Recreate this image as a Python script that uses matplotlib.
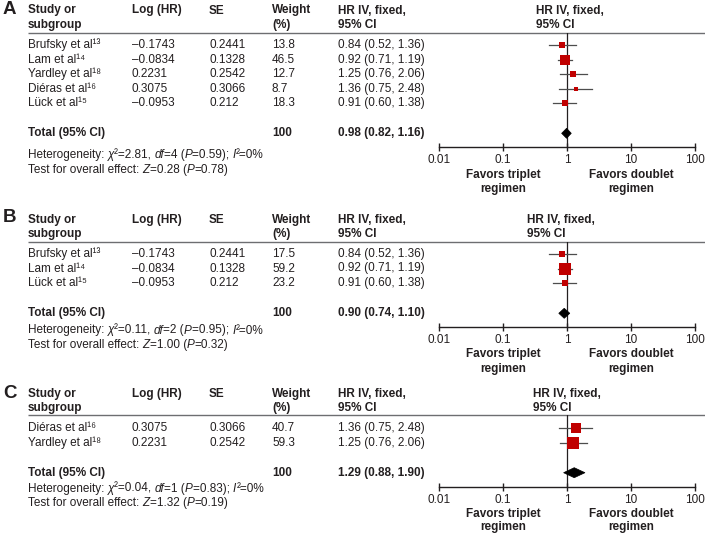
import matplotlib
matplotlib.use("Agg")
import matplotlib.pyplot as plt
import numpy as np
from matplotlib.patches import Polygon

plt.rcParams['font.family'] = ['Liberation Sans', 'DejaVu Sans']

# ---------------- data ----------------
A_studies = ["Brufsky et al", "Lam et al", "Yardley et al", "Diéras et al", "Lück et al"]
A_refs = ["13", "14", "18", "16", "15"]
A_loghr = [-0.1743, -0.0834, 0.2231, 0.3075, -0.0953]
A_se = ["0.2441", "0.1328", "0.2542", "0.3066", "0.212"]
A_weight = [13.8, 46.5, 12.7, 8.7, 18.3]
A_hr = [0.84, 0.92, 1.25, 1.36, 0.91]
A_lo = [0.52, 0.71, 0.76, 0.75, 0.60]
A_hi = [1.36, 1.19, 2.06, 2.48, 1.38]
A_total = [0.98, 0.82, 1.16]
A_het = ["2.81", "4", "0.59", "0"]
A_z = ["0.28", "0.78"]

B_studies = ["Brufsky et al", "Lam et al", "Lück et al"]
B_refs = ["13", "14", "15"]
B_loghr = [-0.1743, -0.0834, -0.0953]
B_se = ["0.2441", "0.1328", "0.212"]
B_weight = [17.5, 59.2, 23.2]
B_hr = [0.84, 0.92, 0.91]
B_lo = [0.52, 0.71, 0.60]
B_hi = [1.36, 1.19, 1.38]
B_total = [0.90, 0.74, 1.10]
B_het = ["0.11", "2", "0.95", "0"]
B_z = ["1.00", "0.32"]

C_studies = ["Diéras et al", "Yardley et al"]
C_refs = ["16", "18"]
C_loghr = [0.3075, 0.2231]
C_se = ["0.3066", "0.2542"]
C_weight = [40.7, 59.3]
C_hr = [1.36, 1.25]
C_lo = [0.75, 0.76]
C_hi = [2.48, 2.06]
C_total = [1.29, 0.88, 1.90]
C_het = ["0.04", "1", "0.83", "0"]
C_z = ["1.32", "0.19"]

tick_vals = [0.01, 0.1, 1, 10, 100]
tick_labels = ["0.01", "0.1", "1", "10", "100"]

# ---------------- layout ----------------
W, H = 705, 534
FS = 8.5
TXT = '#231f20'
RED = '#c00000'
cols = dict(study=28, log=132, se=209, weight=272, hr=338)
ax_x0, ax_x1 = 439.3, 695.0
SUP = str.maketrans("0123456789", "\u2070\u00b9\u00b2\u00b3\u2074\u2075\u2076\u2077\u2078\u2079")

panels = [
    dict(label="A", studies=A_studies, refs=A_refs, loghr=A_loghr, se=A_se, w=A_weight,
         hr=A_hr, lo=A_lo, hi=A_hi, total=A_total, het=A_het, z=A_z,
         lab_y=10, head_y=10.5, line_y=32.7, row0=45, dy=14.55, total_y=133.3,
         het_y=155, test_y=169.6, axis_y=146.7, fav_y=175, reg_y=189, hrhead_x=536),
    dict(label="B", studies=B_studies, refs=B_refs, loghr=B_loghr, se=B_se, w=B_weight,
         hr=B_hr, lo=B_lo, hi=B_hi, total=B_total, het=B_het, z=B_z,
         lab_y=218, head_y=220, line_y=241.7, row0=254, dy=14.5, total_y=313.3,
         het_y=330.5, test_y=345.1, axis_y=326.7, fav_y=354, reg_y=369, hrhead_x=527),
    dict(label="C", studies=C_studies, refs=C_refs, loghr=C_loghr, se=C_se, w=C_weight,
         hr=C_hr, lo=C_lo, hi=C_hi, total=C_total, het=C_het, z=C_z,
         lab_y=393, head_y=394, line_y=415, row0=428.3, dy=14.5, total_y=472.7,
         het_y=488.8, test_y=503.4, axis_y=487.3, fav_y=514, reg_y=527.3, hrhead_x=533),
]

fig = plt.figure(figsize=(W / 100, H / 100), dpi=100)
ax0 = fig.add_axes([0, 0, 1, 1])
ax0.set_xlim(0, W)
ax0.set_ylim(H, 0)
ax0.axis('off')

def t(x, y, s, bold=False, ha='left', size=FS, ax=ax0):
    return ax.text(x, y, s, ha=ha, va='center', fontsize=size, color=TXT,
                   fontweight='bold' if bold else 'normal', clip_on=False)

def rich(x, y, pieces):
    """pieces: list of (text, italic) drawn one after another on one line."""
    prev = None
    for s, it in pieces:
        style = 'italic' if it else 'normal'
        if prev is None:
            prev = ax0.text(x, y, s, ha='left', va='center', fontsize=FS, color=TXT,
                            fontstyle=style)
        else:
            prev = ax0.annotate(s, xy=(1, 0), xycoords=prev, ha='left', va='bottom',
                                fontsize=FS, color=TXT, fontstyle=style)

def fmt_ci(hr, lo, hi):
    return f"{hr:.2f} ({lo:.2f}, {hi:.2f})"

for p in panels:
    # panel label
    t(3, p['lab_y'], p['label'], bold=True, size=13.5)
    # headers
    hy = p['head_y']; hy2 = hy + 14.3
    t(cols['study'], hy, "Study or", bold=True)
    t(cols['study'], hy2, "subgroup", bold=True)
    t(cols['log'], hy, "Log (HR)", bold=True)
    t(cols['se'], hy, "SE", bold=True)
    t(cols['weight'], hy, "Weight", bold=True)
    t(cols['weight'], hy2, "(%)", bold=True)
    t(cols['hr'], hy, "HR IV, fixed,", bold=True)
    t(cols['hr'], hy2, "95% CI", bold=True)
    t(p['hrhead_x'], hy, "HR IV, fixed,", bold=True)
    t(p['hrhead_x'], hy2, "95% CI", bold=True)
    ax0.plot([28, W], [p['line_y'], p['line_y']], color='#6d6e71', lw=1.0, solid_capstyle='butt')

    n = len(p['studies'])
    ys = [p['row0'] + i * p['dy'] for i in range(n)]
    for i in range(n):
        y = ys[i]
        t(cols['study'], y, p['studies'][i] + p['refs'][i].translate(SUP))
        t(cols['log'], y, f"{p['loghr'][i]}".replace('-', '\u2013'))
        t(cols['se'], y, p['se'][i])
        t(cols['weight'], y, f"{p['w'][i]}")
        t(cols['hr'], y, fmt_ci(p['hr'][i], p['lo'][i], p['hi'][i]))
    ty = p['total_y']
    t(cols['study'], ty, "Total (95% CI)", bold=True)
    t(cols['weight'], ty, "100", bold=True)
    t(cols['hr'], ty, fmt_ci(*p['total']), bold=True)
    chi, df, pv, i2 = p['het']
    rich(cols['study'], p['het_y'],
         [("Heterogeneity: ", False), ("\u03c7", True), ("\u00b2=" + chi + ", ", False),
          ("df", True), ("=" + df + " (", False), ("P", True), ("=" + pv + "); ", False),
          ("I", True), ("\u00b2=" + i2 + "%", False)])
    zv, zp = p['z']
    rich(cols['study'], p['test_y'],
         [("Test for overall effect: ", False), ("Z", True), ("=" + zv + " (", False),
          ("P", True), ("=" + zp + ")", False)])

    # forest axes (y in figure pixel units)
    top, bot = p['line_y'], p['axis_y']
    ax = fig.add_axes([ax_x0 / W, 1 - bot / H, (ax_x1 - ax_x0) / W, (bot - top) / H])
    ax.set_xscale('log')
    ax.set_xlim(0.01, 100)
    ax.set_ylim(bot, top)
    ax.patch.set_visible(False)
    for s in ['top', 'left', 'right']:
        ax.spines[s].set_visible(False)
    ax.spines['bottom'].set_color('#231f20')
    ax.spines['bottom'].set_linewidth(1.0)
    ax.set_yticks([])
    ax.set_xticks(tick_vals)
    ax.set_xticklabels(tick_labels)
    ax.xaxis.set_minor_locator(matplotlib.ticker.NullLocator())
    ax.tick_params(axis='x', direction='inout', length=6, width=1.0, pad=2.0,
                   labelsize=FS, colors=TXT)
    ax.axvline(1, color='#231f20', lw=0.9, zorder=1)
    for i in range(n):
        y = ys[i]
        ax.plot([p['lo'][i], p['hi'][i]], [y, y], color='#4d4d4d', lw=0.9, zorder=2,
                clip_on=False)
        side_px = 1.45 * np.sqrt(p['w'][i])
        ax.plot([p['hr'][i]], [y], marker='s', ms=side_px * 0.72, color=RED,
                mec=RED, mew=0, zorder=3, clip_on=False)
    est, lo, hi = p['total']
    hh = 5.0
    ax.add_patch(Polygon([[lo, ty], [est, ty - hh], [hi, ty], [est, ty + hh]],
                         closed=True, facecolor='black', edgecolor='black', lw=0.5,
                         zorder=4, clip_on=False))
    t(0.1, p['fav_y'], "Favors triplet", bold=True, ha='center', ax=ax)
    t(0.1, p['reg_y'], "regimen", bold=True, ha='center', ax=ax)
    t(10, p['fav_y'], "Favors doublet", bold=True, ha='center', ax=ax)
    t(10, p['reg_y'], "regimen", bold=True, ha='center', ax=ax)

fig.savefig("out.png", dpi=100)
